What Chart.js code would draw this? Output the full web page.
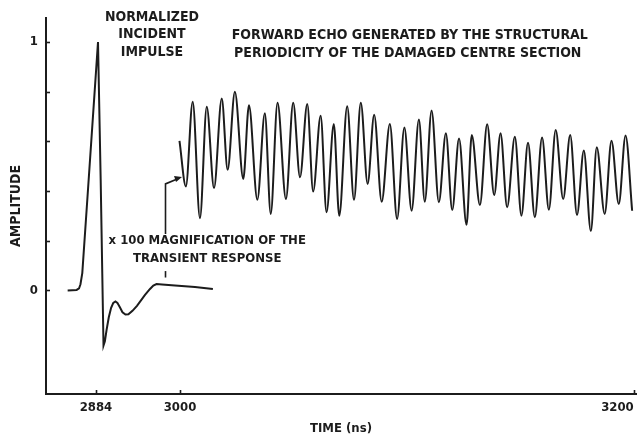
<!DOCTYPE html>
<html>
<head>
<meta charset="utf-8">
<script src="https://cdn.jsdelivr.net/npm/chart.js@4.4.1/dist/chart.umd.min.js"></script>
<style>
  html, body { margin: 0; padding: 0; background: #fff; }
  #wrap { width: 644px; height: 438px; }
</style>
</head>
<body>
<div id="wrap"><canvas id="echoChart"></canvas></div>
<script>
// incident impulse + transient (ns, normalized amplitude)
const impulseTime = [2844.9, 2857.3, 2860.6, 2862.6, 2865.1, 2872.0, 2886.8, 2890.5, 2894.4, 2896.3,
  2898.6, 2901.7, 2904.9, 2907.9, 2910.9, 2913.6, 2917.0, 2920.6, 2924.7, 2928.8, 2934.4, 2940.6,
  2951.7, 2958.6, 2963.2, 2967.6, 2975.2, 2993.1, 3006.6, 3014.5];
const impulseAmp = [0, 0.002, 0.008, 0.025, 0.07, 0.364, 1.0, 0.445, -0.222, -0.205,
  -0.160, -0.108, -0.070, -0.050, -0.044, -0.050, -0.068, -0.088, -0.097, -0.096, -0.082, -0.062,
  -0.018, 0.006, 0.020, 0.026, 0.024, 0.020, 0.014, 0.006];

// forward echo (x100), peaks and troughs
const echoTime = [2999.3, 3002.6, 3005.6, 3008.8, 3011.8, 3015.0, 3018.4, 3021.0, 3024.2, 3027.9,
  3030.4, 3034.1, 3037.4, 3040.0, 3043.0, 3046.7, 3049.9, 3052.9, 3056.1, 3058.7,
  3062.0, 3064.6, 3067.8, 3070.2, 3073.7, 3076.7, 3079.7, 3082.7, 3085.6, 3088.9,
  3092.5, 3095.7, 3098.9, 3102.1, 3105.3, 3107.9, 3110.9, 3114.1, 3117.2, 3120.0,
  3123.0, 3126.3, 3128.6, 3132.2, 3135.4, 3138.5, 3141.3, 3144.2, 3147.6, 3150.5,
  3153.4, 3156.4, 3159.6, 3162.6, 3165.6, 3168.9, 3172.0, 3175.0, 3178.0, 3181.1,
  3183.7, 3187.2, 3190.2, 3193.4, 3196.4, 3199.3];
const echoAmp = [0.602, 0.419, 0.760, 0.291, 0.740, 0.412, 0.773, 0.486, 0.800, 0.449,
  0.746, 0.365, 0.713, 0.308, 0.756, 0.368, 0.756, 0.456, 0.751, 0.398,
  0.703, 0.315, 0.670, 0.301, 0.742, 0.365, 0.756, 0.429, 0.707, 0.357,
  0.670, 0.288, 0.656, 0.321, 0.688, 0.357, 0.725, 0.355, 0.633, 0.324,
  0.612, 0.264, 0.626, 0.344, 0.669, 0.384, 0.633, 0.335, 0.619, 0.301,
  0.595, 0.295, 0.616, 0.325, 0.646, 0.368, 0.626, 0.304, 0.563, 0.239,
  0.577, 0.308, 0.603, 0.348, 0.624, 0.321];

const xTicks = [2884, 3000, 3200];
const yTicks = [0, 0.2, 0.4, 0.6, 0.8, 1];
const yLabelled = [0, 1];

// time axis is drawn with a change of scale at 3000 ns
const BREAK_NS = 3000;
const BREAK_FRACTION = 0.2271;
const X_MIN = 2815, X_MAX = 3201;

const INK = '#1c1c1c';
const FONT = '"Liberation Sans Narrow", "DejaVu Sans Condensed", sans-serif';

class BrokenTimeScale extends Chart.LinearScale {
    static id = 'brokenTime';
    static defaults = Chart.LinearScale.defaults;

    toDecimal(v) {
        const min = this.min, max = this.max;
        if (v <= BREAK_NS) return (v - min) / (BREAK_NS - min) * BREAK_FRACTION;
        return BREAK_FRACTION + (v - BREAK_NS) / (max - BREAK_NS) * (1 - BREAK_FRACTION);
    }
    getPixelForValue(value) {
        if (value === null || value === undefined) return NaN;
        return this.getPixelForDecimal(this.toDecimal(value));
    }
    getValueForPixel(pixel) {
        const d = this.getDecimalForPixel(pixel);
        if (d <= BREAK_FRACTION) return this.min + d / BREAK_FRACTION * (BREAK_NS - this.min);
        return BREAK_NS + (d - BREAK_FRACTION) / (1 - BREAK_FRACTION) * (this.max - BREAK_NS);
    }
}
Chart.register(BrokenTimeScale);

// text notes and arrows, placed in data units
const notes = [
    { lines: ['NORMALIZED', 'INCIDENT', 'IMPULSE'], t: 2961.3, a: [1.100, 1.032, 0.960], size: 14 },
    { lines: ['FORWARD ECHO GENERATED BY THE STRUCTURAL'], t: 3101.3, a: [1.026], size: 14 },
    { lines: ['PERIODICITY OF THE DAMAGED CENTRE SECTION'], t: 3100.4, a: [0.953], size: 14 },
    { lines: ['x 100 MAGNIFICATION OF THE', 'TRANSIENT RESPONSE'], t: 3012.0, a: [0.199, 0.127], size: 13 }
];

const annotationPlugin = {
    id: 'annotations',
    afterDraw(chart) {
        const ctx = chart.ctx;
        const xs = chart.scales.x, ys = chart.scales.y;
        const area = chart.chartArea;
        ctx.save();
        ctx.strokeStyle = INK;
        ctx.fillStyle = INK;
        ctx.lineWidth = 1.6;

        // inward tick marks
        xTicks.forEach(v => {
            const px = Math.round(xs.getPixelForValue(v)) + 0.5;
            ctx.beginPath();
            ctx.moveTo(px, area.bottom);
            ctx.lineTo(px, area.bottom - 4);
            ctx.stroke();
        });
        yTicks.forEach(v => {
            const py = Math.round(ys.getPixelForValue(v)) + 0.5;
            ctx.beginPath();
            ctx.moveTo(area.left, py);
            ctx.lineTo(area.left + 4, py);
            ctx.stroke();
        });

        // arrow from the magnification note to the echo
        const ax = xs.getPixelForValue(2980);
        ctx.beginPath();
        ctx.moveTo(ax, ys.getPixelForValue(0.227));
        ctx.lineTo(ax, ys.getPixelForValue(0.429));
        const tipX = xs.getPixelForValue(3000.9), tipY = ys.getPixelForValue(0.457);
        ctx.lineTo(tipX - 6, tipY + 2.5);
        ctx.stroke();
        ctx.beginPath();
        ctx.moveTo(tipX, tipY);
        ctx.lineTo(tipX - 8, tipY - 1);
        ctx.lineTo(tipX - 6, tipY + 5);
        ctx.closePath();
        ctx.fill();

        // short pointer down to the transient
        ctx.beginPath();
        ctx.moveTo(ax, ys.getPixelForValue(0.078));
        ctx.lineTo(ax, ys.getPixelForValue(0.052));
        ctx.stroke();

        ctx.textBaseline = 'middle';
        ctx.textAlign = 'center';
        notes.forEach(n => {
            ctx.font = 'bold ' + n.size + 'px ' + FONT;
            n.lines.forEach((s, i) => {
                ctx.fillText(s, xs.getPixelForValue(n.t), ys.getPixelForValue(n.a[i]));
            });
        });
        ctx.restore();
    }
};

const ctx = document.getElementById('echoChart').getContext('2d');
new Chart(ctx, {
    type: 'line',
    data: {
        datasets: [
            {
                label: 'Incident impulse',
                data: impulseTime.map((t, i) => ({ x: t, y: impulseAmp[i] })),
                borderColor: INK,
                borderWidth: 2,
                pointRadius: 0,
                tension: 0
            },
            {
                label: 'Forward echo x100',
                data: echoTime.map((t, i) => ({ x: t, y: echoAmp[i] })),
                borderColor: INK,
                borderWidth: 2,
                pointRadius: 0,
                cubicInterpolationMode: 'monotone'
            }
        ]
    },
    options: {
        responsive: true,
        maintainAspectRatio: false,
        animation: false,
        layout: { padding: { top: 18, right: 8, left: 0, bottom: 0 } },
        plugins: {
            legend: { display: false },
            tooltip: { enabled: false }
        },
        scales: {
            x: {
                type: 'brokenTime',
                min: X_MIN,
                max: X_MAX,
                // blank tick at the axis start so 'inner' only right-aligns 3200
                afterBuildTicks: s => { s.ticks = [X_MIN].concat(xTicks).map(v => ({ value: v })); },
                afterFit: s => { s.height = 44; s.paddingLeft = 0; s.paddingRight = 0; },
                grid: { display: false, drawTicks: false },
                border: { display: true, color: INK, width: 2 },
                ticks: {
                    color: INK,
                    padding: 6,
                    align: 'inner',
                    maxRotation: 0,
                    font: { family: FONT, size: 13, weight: 'bold' },
                    callback: v => (xTicks.includes(v) ? String(v) : '')
                },
                title: {
                    display: true,
                    text: 'TIME (ns)',
                    color: INK,
                    padding: { top: 4, bottom: 2 },
                    font: { family: FONT, size: 13, weight: 'bold' }
                }
            },
            y: {
                type: 'linear',
                min: -0.417,
                max: 1.097,
                afterBuildTicks: s => { s.ticks = yTicks.map(v => ({ value: v })); },
                afterFit: s => { s.width = 46; s.paddingTop = 0; s.paddingBottom = 0; },
                grid: { display: false, drawTicks: false },
                border: { display: true, color: INK, width: 2 },
                ticks: {
                    color: INK,
                    padding: 8,
                    font: { family: FONT, size: 13, weight: 'bold' },
                    callback: v => (yLabelled.includes(v) ? String(v) : '')
                },
                title: {
                    display: true,
                    text: 'AMPLITUDE',
                    color: INK,
                    padding: { top: 8, bottom: 0 },
                    font: { family: FONT, size: 14, weight: 'bold' }
                }
            }
        }
    },
    plugins: [annotationPlugin]
});
</script>
</body>
</html>
